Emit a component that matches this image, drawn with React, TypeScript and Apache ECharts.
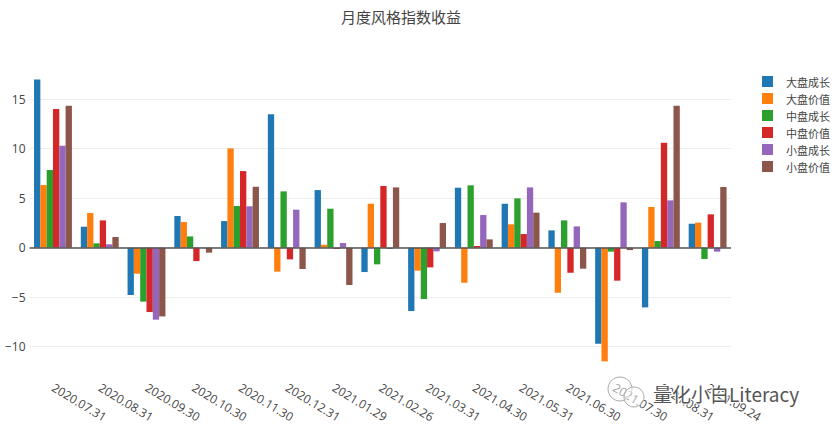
import React, { useEffect, useRef } from "react";
import * as echarts from "echarts";

const categories = [
  "2020.07.31", "2020.08.31", "2020.09.30", "2020.10.30", "2020.11.30",
  "2020.12.31", "2021.01.29", "2021.02.26", "2021.03.31", "2021.04.30",
  "2021.05.31", "2021.06.30", "2021.07.30", "2021.08.31", "2021.09.24",
];

const seriesNames = ["大盘成长", "大盘价值", "中盘成长", "中盘价值", "小盘成长", "小盘价值"];

const largeGrowth = [17.0, 2.12, -4.78, 3.2, 2.69, 13.47, 5.82, -2.46, -6.4, 6.06, 4.44, 1.75, -9.7, -6.03, 2.42];
const largeValue = [6.33, 3.5, -2.63, 2.59, 10.03, -2.42, 0.3, 4.44, -2.32, -3.54, 2.36, -4.55, -11.48, 4.11, 2.53];
const midGrowth = [7.85, 0.44, -5.45, 1.14, 4.21, 5.69, 3.94, -1.68, -5.19, 6.3, 4.98, 2.76, -0.4, 0.67, -1.14];
const midValue = [14.0, 2.76, -6.5, -1.35, 7.74, -1.18, -0.13, 6.23, -1.99, 0.17, 1.38, -2.53, -3.33, 10.6, 3.37];
const smallGrowth = [10.3, 0.34, -7.27, 0.02, 4.18, 3.84, 0.47, -0.13, -0.37, 3.3, 6.09, 2.15, 4.58, 4.78, -0.4];
const smallValue = [14.34, 1.08, -6.94, -0.5, 6.16, -2.15, -3.77, 6.09, 2.49, 0.84, 3.54, -2.12, -0.24, 14.34, 6.13];

const seriesValues = [largeGrowth, largeValue, midGrowth, midValue, smallGrowth, smallValue];
const colors = ["#1f77b4", "#ff7f0e", "#2ca02c", "#d62728", "#9467bd", "#8c564b"];

const titleText = "月度风格指数收益";
const watermarkText = "量化小白Literacy";

export default function App() {
  const ref = useRef<HTMLDivElement>(null);

  useEffect(() => {
    if (!ref.current) return;
    const chart = echarts.init(ref.current, undefined, { renderer: "svg" });
    const font = "'Open Sans', 'Noto Sans CJK SC', sans-serif";
    const series: any[] = seriesNames.map((name, i) => ({
      name,
      type: "bar",
      data: seriesValues[i],
      barGap: "0%",
      barCategoryGap: "19%",
      itemStyle: { color: colors[i] },
      emphasis: { disabled: true },
    }));
    series[0].markLine = {
      silent: true,
      symbol: "none",
      label: { show: false },
      lineStyle: { color: "#555", width: 1.5, type: "solid" },
      data: [{ yAxis: 0 }],
    };
    chart.setOption({
      animation: false,
      color: colors,
      title: {
        text: titleText,
        left: 396,
        top: 4,
        textAlign: "center",
        textStyle: {
          fontFamily: "'Noto Sans CJK SC', sans-serif",
          fontSize: 15,
          fontWeight: "normal",
          color: "#444",
        },
      },
      legend: {
        orient: "vertical",
        left: 757,
        top: 71,
        icon: "rect",
        itemWidth: 11,
        itemHeight: 11,
        itemGap: 6,
        textStyle: {
          fontFamily: "'Noto Sans CJK SC', sans-serif",
          fontSize: 11,
          color: "#444",
          lineHeight: 11,
          padding: [0, 0, 0, 8],
        },
        data: seriesNames,
      },
      grid: { left: 29.6, right: 101, top: 64.55, bottom: 60.55, containLabel: false },
      xAxis: {
        type: "category",
        data: categories,
        boundaryGap: true,
        axisLine: { show: false },
        axisTick: { show: false },
        splitLine: { show: false },
        axisLabel: {
          rotate: -31,
          interval: 0,
          margin: 15,
          fontFamily: font,
          fontSize: 12,
          color: "#444",
        },
      },
      yAxis: {
        type: "value",
        min: -12.5,
        max: 18.5,
        splitNumber: 6,
        minInterval: 5,
        maxInterval: 5,
        axisLine: { show: false },
        axisTick: { show: false },
        axisLabel: {
          margin: 4,
          fontFamily: font,
          fontSize: 12,
          color: "#444",
          showMinLabel: false,
          showMaxLabel: false,
          formatter: (v: number) => (v % 5 === 0 ? String(v).replace("-", "\u2212") : ""),
        },
        splitLine: {
          show: true,
          lineStyle: {
            color: ["rgba(0,0,0,0)", "#eee", "#eee", "#eee", "#eee", "#eee", "#eee", "rgba(0,0,0,0)"],
            width: 1,
          },
        },
      },
      graphic: [
        {
          type: "circle",
          z: 99,
          shape: { cx: 620, cy: 389, r: 12 },
          style: { fill: "rgba(255,255,255,0.5)", stroke: "#aaa", lineWidth: 1 },
        },
        {
          type: "circle",
          z: 99,
          shape: { cx: 634, cy: 397, r: 10 },
          style: { fill: "rgba(255,255,255,0.5)", stroke: "#aaa", lineWidth: 1 },
        },
        {
          type: "text",
          left: 652,
          top: 383,
          z: 100,
          style: {
            text: watermarkText,
            fontFamily: "'Noto Sans CJK SC', sans-serif",
            fontSize: 19,
            fill: "#555",
            stroke: "#fff",
            lineWidth: 2,
          },
        },
      ],
      series,
    });
    return () => chart.dispose();
  }, []);

  return (
    <div
      ref={ref}
      style={{ position: "fixed", left: 0, top: 0, width: 832, height: 432, background: "#fff" }}
    />
  );
}
